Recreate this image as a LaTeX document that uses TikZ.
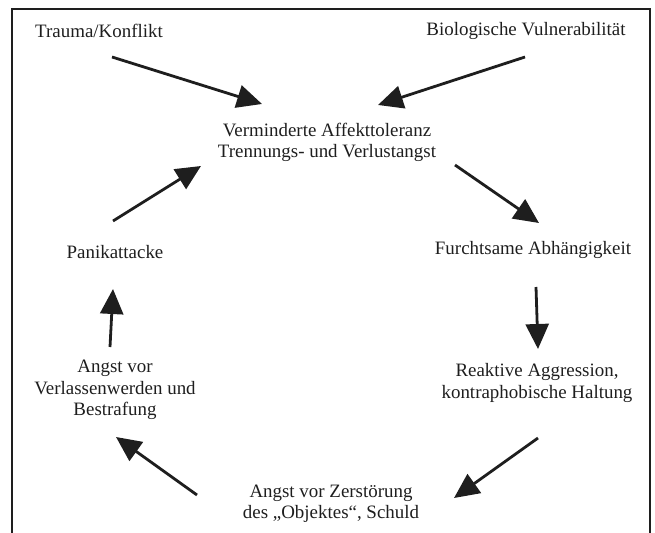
\documentclass[tikz,border=0pt]{standalone}
\usepackage{fontspec}
\setmainfont{Liberation Serif}
\usetikzlibrary{arrows.meta}
\definecolor{ink}{RGB}{30,30,30}
\tikzset{
  lbl/.style={align=center, inner sep=0pt, text=ink, font=\fontsize{19}{21.5}\selectfont},
  flow/.style={line width=2.8bp, draw=ink, -{Triangle[length=25bp,width=23bp]}},
  frame/.style={line width=1.3bp, draw=ink}
}
\begin{document}
\begin{tikzpicture}[x=1bp,y=-1bp]
\useasboundingbox (0,0) rectangle (655,533);
\coordinate (fbl) at (12,533);
\coordinate (ftl) at (12,9);
\coordinate (ftr) at (650,9);
\coordinate (fbr) at (650,533);
\draw[frame] (fbl) -- (ftl) -- (ftr) -- (fbr);

\node[lbl] (trauma) at (99,31) {Trauma/Konflikt};
\node[lbl] (bio) at (526,31) {Biologische Vulnerabilität};
\node[lbl] (verm) at (327,142.5) {Verminderte Affekttoleranz\\Trennungs- und Verlustangst};
\node[lbl] (panik) at (115,252) {Panikattacke};
\node[lbl] (furcht) at (533,250) {Furchtsame Abhängigkeit};
\node[lbl] (reakt) at (537,383) {Reaktive Aggression,\\kontraphobische Haltung};
\node[lbl] (zerst) at (331,504) {Angst vor Zerstörung\\des „Objektes“, Schuld};
\node[lbl] (verl) at (115,390) {Angst vor\\Verlassenwerden und\\Bestrafung};

\coordinate (a1s) at (112,57);  \coordinate (a1e) at (262,104);
\coordinate (a2s) at (525,57);  \coordinate (a2e) at (378,105);
\coordinate (a3s) at (455,165); \coordinate (a3e) at (539,223);
\coordinate (a4s) at (536,287); \coordinate (a4e) at (538,349);
\coordinate (a5s) at (538,438); \coordinate (a5e) at (454,498);
\coordinate (a6s) at (197,495); \coordinate (a6e) at (116,437);
\coordinate (a7s) at (110,347); \coordinate (a7e) at (113,289);
\coordinate (a8s) at (113,221); \coordinate (a8e) at (201,166);

\draw[flow] (a1s) -- (a1e);
\draw[flow] (a2s) -- (a2e);
\draw[flow] (a3s) -- (a3e);
\draw[flow] (a4s) -- (a4e);
\draw[flow] (a5s) -- (a5e);
\draw[flow] (a6s) -- (a6e);
\draw[flow] (a7s) -- (a7e);
\draw[flow] (a8s) -- (a8e);
\end{tikzpicture}
\end{document}
